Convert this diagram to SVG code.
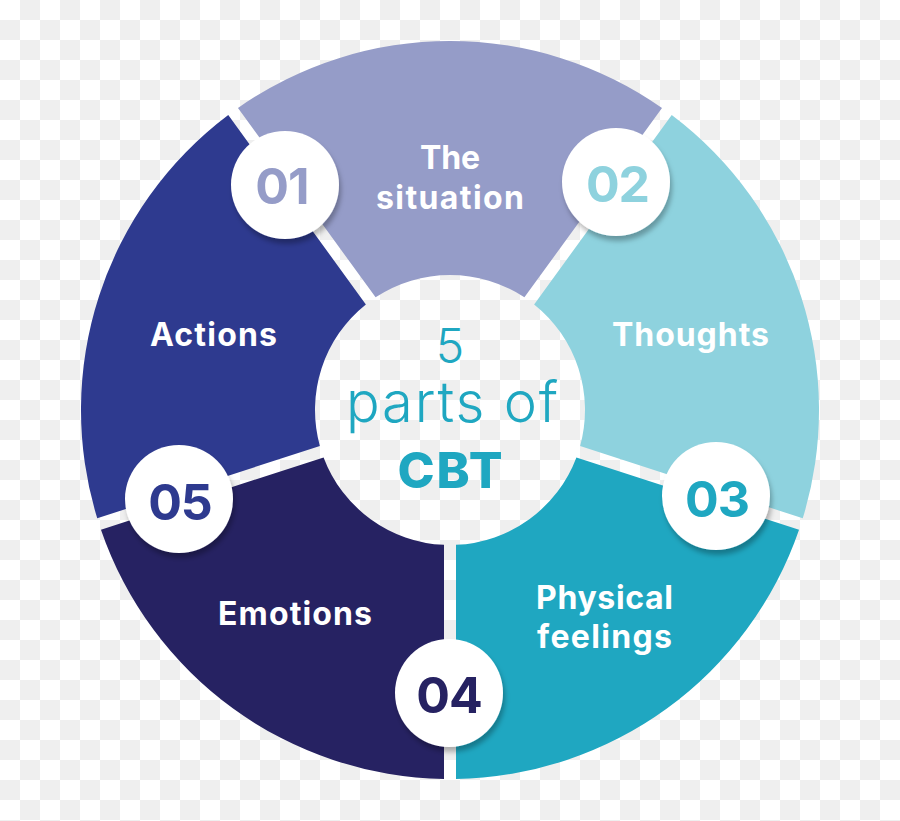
<svg xmlns="http://www.w3.org/2000/svg" xmlns:xlink="http://www.w3.org/1999/xlink" width="900" height="821" viewBox="0 0 900 821">
  <defs>
    <pattern id="checker" patternUnits="userSpaceOnUse" width="40" height="40">
      <rect width="40" height="40" fill="#ffffff"/>
      <rect x="20" y="0" width="20" height="20" fill="#efefef"/>
      <rect x="0" y="20" width="20" height="20" fill="#efefef"/>
    </pattern>
    <path id="seg" d="M 237.99 107.98 A 369 369 0 0 1 662.01 107.98 L 524.42 297.36 A 135 135 0 0 0 375.58 297.36 Z"/>
    <filter id="shadow" x="-30%" y="-30%" width="160%" height="170%">
      <feDropShadow dx="2" dy="5" stdDeviation="2.5" flood-color="#000000" flood-opacity="0.28"/>
    </filter>
    <style>
      .label { font-family: Inter, "Noto Sans", "Liberation Sans", sans-serif; font-weight: 700; font-size: 32px; fill: #ffffff; text-anchor: middle; }
      .num { font-family: Inter, "Noto Sans", "Liberation Sans", sans-serif; font-weight: 700; font-size: 50px; letter-spacing: -1px; text-anchor: middle; }
      .badge { fill: #ffffff; filter: url(#shadow); }
      .center { font-family: Inter, "Open Sans", "Liberation Sans", sans-serif; fill: #1fa7c1; text-anchor: middle; }
    </style>
  </defs>

  <rect id="background" x="0" y="0" width="900" height="821" fill="url(#checker)"/>

  <g id="node-situation">
    <use xlink:href="#seg" fill="#959cc8"/>
    <text class="label" x="450" y="169" textLength="60">The</text>
    <text class="label" x="450" y="209" textLength="148">situation</text>
  </g>
  <g id="node-thoughts">
    <use xlink:href="#seg" fill="#8ed2de" transform="rotate(72 450 410)"/>
    <text class="label" x="690.5" y="346" textLength="157">Thoughts</text>
  </g>
  <g id="node-physical">
    <use xlink:href="#seg" fill="#1fa7c1" transform="rotate(144 450 410)"/>
    <text class="label" x="604.5" y="609" textLength="137">Physical</text>
    <text class="label" x="604.5" y="648" textLength="135">feelings</text>
  </g>
  <g id="node-emotions">
    <use xlink:href="#seg" fill="#262262" transform="rotate(216 450 410)"/>
    <text class="label" x="295" y="625" textLength="154">Emotions</text>
  </g>
  <g id="node-actions">
    <use xlink:href="#seg" fill="#2e3a8f" transform="rotate(288 450 410)"/>
    <text class="label" x="213.5" y="346" textLength="127">Actions</text>
  </g>

  <g id="node-center">
    <text class="center" x="450" y="363" font-size="48" font-weight="300">5</text>
    <text class="center" x="452" y="422" font-size="56" font-weight="300" textLength="212">parts of</text>
    <text class="center" x="450" y="488" font-size="50" font-weight="800" textLength="105">CBT</text>
  </g>

  <g id="badge-01">
    <circle class="badge" cx="285" cy="185" r="54"/>
    <text class="num" x="282" y="204" fill="#959cc8">01</text>
  </g>
  <g id="badge-02">
    <circle class="badge" cx="616" cy="182" r="54"/>
    <text class="num" x="617.5" y="202" fill="#8ed2de">02</text>
  </g>
  <g id="badge-03">
    <circle class="badge" cx="716" cy="496" r="54"/>
    <text class="num" x="717" y="517" fill="#1fa7c1">03</text>
  </g>
  <g id="badge-04">
    <circle class="badge" cx="449" cy="693" r="54"/>
    <text class="num" x="449" y="713" fill="#262262">04</text>
  </g>
  <g id="badge-05">
    <circle class="badge" cx="179" cy="499" r="54"/>
    <text class="num" x="180" y="520" fill="#2e3a8f">05</text>
  </g>
</svg>
